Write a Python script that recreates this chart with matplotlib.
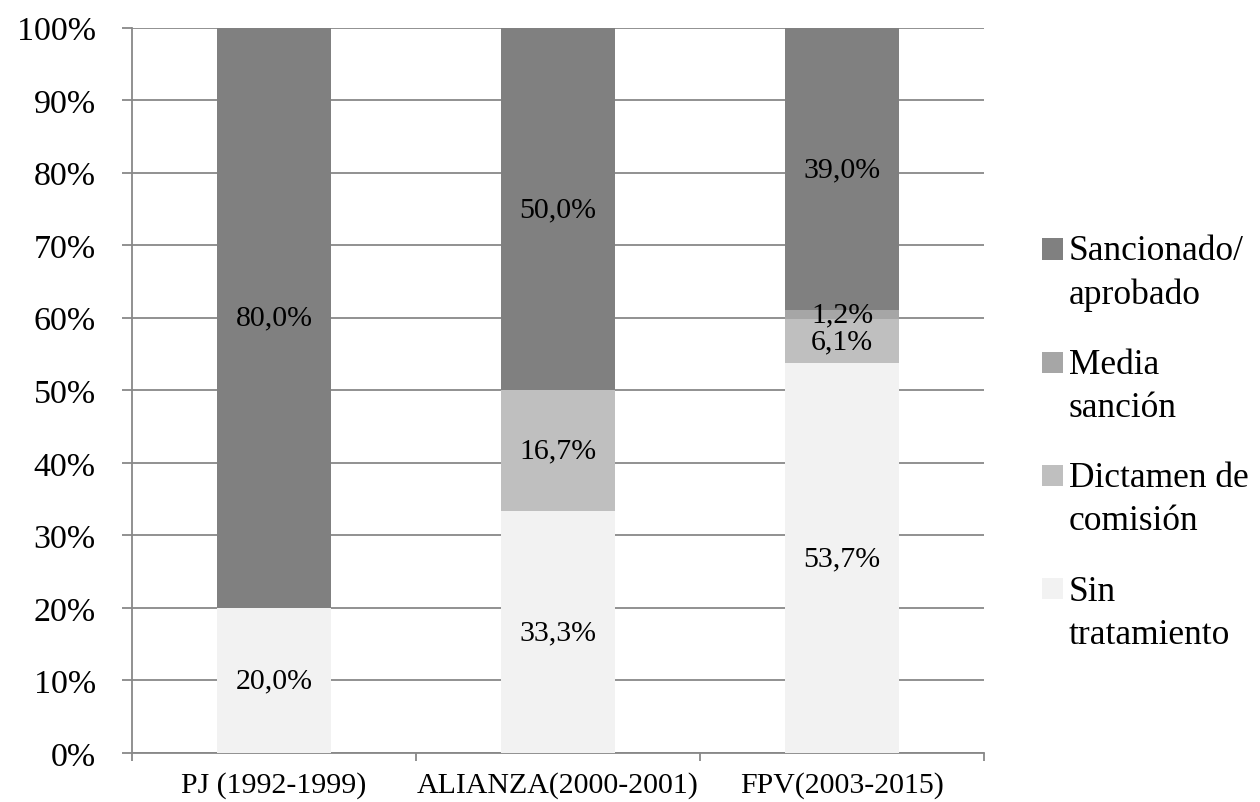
import matplotlib.pyplot as plt
import numpy as np

plt.rcParams['font.family'] = ['Liberation Serif', 'DejaVu Serif']

categorias = ["PJ (1992-1999)", "ALIANZA(2000-2001)", "FPV(2003-2015)"]
series = ["Sin\ntratamiento", "Dictamen de\ncomisión", "Media\nsanción", "Sancionado/\naprobado"]
sin_tratamiento = [20.0, 33.3, 53.7]
dictamen = [0.0, 16.7, 6.1]
media_sancion = [0.0, 0.0, 1.2]
sancionado = [80.0, 50.0, 39.0]
colores = ["#f2f2f2", "#bfbfbf", "#a6a6a6", "#808080"]

valores = [sin_tratamiento, dictamen, media_sancion, sancionado]

fig = plt.figure(figsize=(12.6, 8.03), dpi=100)
ax = fig.add_axes([0.1048, 0.061, 0.6762, 0.9035])

x = np.arange(len(categorias))
base = np.zeros(len(categorias))
for vals, nombre, col in zip(valores, series, colores):
    ax.bar(x, vals, width=0.4, bottom=base, color=col, label=nombre, zorder=3)
    for xi, v, b0 in zip(x, vals, base):
        if v > 0:
            ax.text(xi, b0 + v / 2, f"{v:.1f}%".replace(".", ","),
                    ha="center", va="center", fontsize=21.5, zorder=4)
    base = base + np.array(vals)

gris = "#888888"
ax.set_xlim(-0.5, len(categorias) - 0.5)
ax.set_ylim(0, 100)
ax.set_yticks(np.arange(0, 101, 10))
ax.set_yticklabels([f"{v}%" for v in range(0, 101, 10)], fontsize=24.5)
ax.yaxis.grid(True, color=gris, linewidth=1.3, zorder=0)
ax.tick_params(axis="y", length=7.2, width=1.3, color=gris, pad=19)

ax.set_xticks(x)
ax.set_xticklabels(categorias, fontsize=21.5)
ax.set_xticks(np.arange(-0.5, len(categorias)), minor=True)
ax.tick_params(axis="x", which="major", length=0, pad=13)
ax.tick_params(axis="x", which="minor", length=6, width=1.3, color=gris)

for s in ["top", "right"]:
    ax.spines[s].set_visible(False)
for s in ["left", "bottom"]:
    ax.spines[s].set_color(gris)
    ax.spines[s].set_linewidth(1.3)

h, l = ax.get_legend_handles_labels()
leg = fig.legend(h[::-1], l[::-1], loc="upper left", bbox_to_anchor=(0.827, 0.707),
                 frameon=False, fontsize=25.5, handlelength=0.6, handleheight=0.54,
                 handletextpad=0.15, labelspacing=1.05, borderpad=0, borderaxespad=0)
for t in leg.get_texts():
    t.set_linespacing(1.4)
# cuadro alineado con la primera línea del texto
for p in leg.get_patches():
    p.set_y(p.get_y() + 17)

fig.savefig("out.png", dpi=100)
